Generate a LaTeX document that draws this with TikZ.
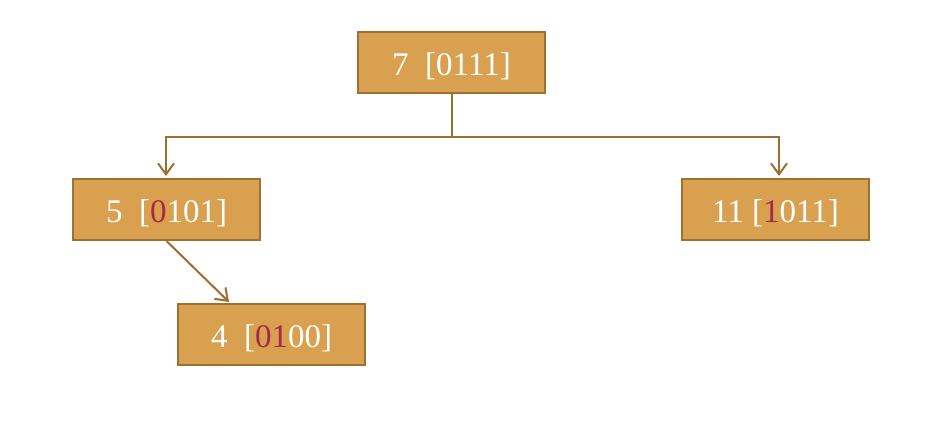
\documentclass[tikz,border=0pt]{standalone}
\usepackage{fontspec}
\setmainfont{Liberation Serif}
\usetikzlibrary{arrows.meta}
\definecolor{boxfill}{HTML}{D9A050}
\definecolor{boxline}{HTML}{A07030}
\definecolor{conn}{HTML}{9C6E30}
\definecolor{hl}{HTML}{A8284A}
\tikzset{
  nbox/.style={draw=boxline, line width=2pt, fill=boxfill, minimum width=187pt, minimum height=61pt, inner sep=0pt, text height=26pt, text depth=0pt, text=white, font=\fontsize{33}{36}\selectfont},
  conline/.style={draw=conn, line width=2pt},
  arr/.style={conline, -{Straight Barb[length=11pt, width=16pt, line width=2pt]}}
}
\begin{document}
\begin{tikzpicture}[x=1pt, y=-1pt]
\useasboundingbox (0,0) rectangle (936,430);
\node[nbox] (n7) at (451.5,62.5) {7\ \ [0111]};
\node[nbox] (n5) at (166.5,209.5) {5\ \ [\textcolor{hl}{0}101]};
\node[nbox] (n11) at (775.5,210) {11 [\textcolor{hl}{1}011]};
\node[nbox] (n4) at (271.5,334) {4\ \ [\textcolor{hl}{01}00]};
\coordinate (j) at (451.5,137);
\coordinate (jl) at (166,137);
\coordinate (jr) at (779,137);
\coordinate (tl) at (166,176);
\coordinate (tr) at (779,176);
\coordinate (t4) at (229,302);
\draw[conline] (n7.south) -- (j);
\draw[arr] (j) -- (jl) -- (tl);
\draw[arr] (j) -- (jr) -- (tr);
\draw[arr] (n5.south) -- (t4);
\end{tikzpicture}
\end{document}
